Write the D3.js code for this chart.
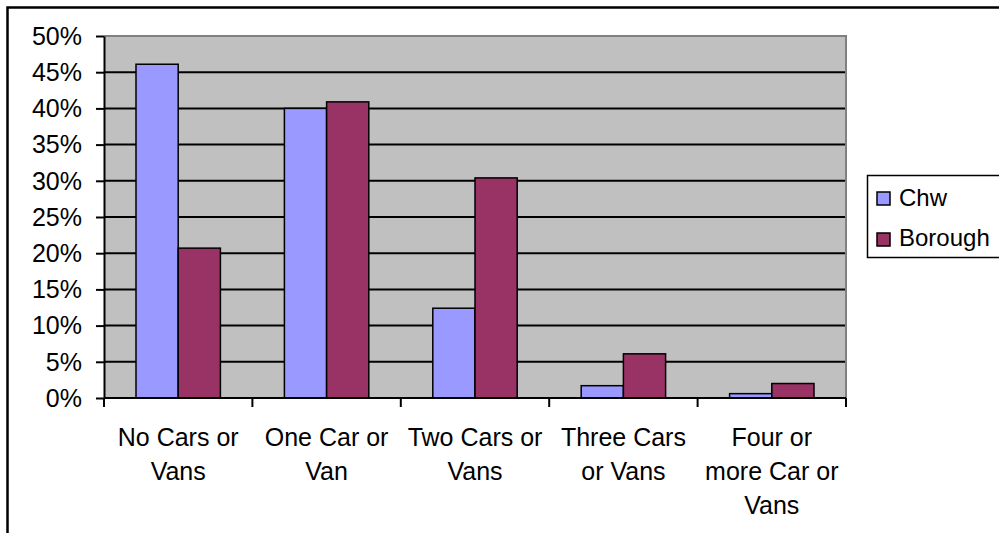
<!DOCTYPE html>
<html><head><meta charset="utf-8">
<script src="https://cdn.jsdelivr.net/npm/d3@7"></script>
<style>body{margin:0;background:#fff}svg{display:block}text{font-family:"Liberation Sans",Arial,sans-serif;fill:#000}</style>
</head><body>
<script>
const categories = [["No Cars or","Vans"],["One Car or","Van"],["Two Cars or","Vans"],["Three Cars","or Vans"],["Four or","more Car or","Vans"]];
const seriesNames = ["Chw","Borough"];
const chwValues = [0.461, 0.400, 0.124, 0.017, 0.006];
const boroughValues = [0.207, 0.409, 0.304, 0.061, 0.020];
const yTicks = [0,0.05,0.1,0.15,0.2,0.25,0.3,0.35,0.4,0.45,0.5];
const colors = ["#9999FF","#993366"];

const W=999,H=533;
const svg=d3.select("body").append("svg").attr("width",W).attr("height",H);
// outer frame
svg.append("rect").attr("x",7.5).attr("y",7.5).attr("width",W+20).attr("height",H+20)
  .attr("fill","#fff").attr("stroke","#000").attr("stroke-width",2.5);

const L=104,R=846,T=36,B=398;
const x=d3.scaleBand().domain(d3.range(categories.length)).range([L,R]).paddingInner(0).paddingOuter(0);
const y=d3.scaleLinear().domain([0,0.5]).range([B,T]);
const inner=d3.scaleBand().domain(seriesNames).range([32, x.bandwidth()-32]);

svg.append("rect").attr("x",L).attr("y",T).attr("width",R-L).attr("height",B-T).attr("fill","#C0C0C0");
// gridlines
svg.append("g").selectAll("line").data(yTicks.slice(1)).join("line")
  .attr("x1",L).attr("x2",R).attr("y1",d=>y(d)).attr("y2",d=>y(d)).attr("stroke","#000").attr("stroke-width",2);
// plot border top/right gray
svg.append("path").attr("d",`M${L},${T}H${R}V${B}`).attr("fill","none").attr("stroke","#808080").attr("stroke-width",2);

// bars
const data=[chwValues,boroughValues];
seriesNames.forEach((s,si)=>{
  svg.append("g").selectAll("rect").data(data[si]).join("rect")
    .attr("x",(d,i)=>x(i)+inner(s)).attr("width",inner.bandwidth())
    .attr("y",d=>y(d)).attr("height",d=>B-y(d))
    .attr("fill",colors[si]).attr("stroke","#000").attr("stroke-width",1.5);
});

// y axis
const yAxis=d3.axisLeft(y).tickValues(yTicks).tickFormat(d3.format(".0%")).tickSize(8).tickSizeOuter(0).tickPadding(14);
const ya=svg.append("g").attr("transform",`translate(${L},0)`).call(yAxis);
ya.select(".domain").attr("stroke","#000").attr("stroke-width",2);
ya.selectAll(".tick line").attr("stroke","#000").attr("stroke-width",2);
ya.selectAll(".tick text").attr("font-size",25).attr("dy","0.33em").style("font-family","Liberation Sans, Arial, sans-serif");

// x axis baseline and ticks
svg.append("line").attr("x1",L).attr("x2",R).attr("y1",B).attr("y2",B).attr("stroke","#000").attr("stroke-width",2);
svg.append("g").selectAll("line").data(d3.range(categories.length+1)).join("line")
  .attr("x1",i=>L+i*x.bandwidth()).attr("x2",i=>L+i*x.bandwidth()).attr("y1",B).attr("y2",B+9)
  .attr("stroke","#000").attr("stroke-width",2);
// category labels
const cl=svg.append("g").selectAll("text").data(categories).join("text")
  .attr("text-anchor","middle").attr("font-size",25)
  .attr("transform",(d,i)=>`translate(${x(i)+x.bandwidth()/2},${446})`);
cl.selectAll("tspan").data(d=>d).join("tspan").attr("x",0).attr("dy",(d,j)=>j===0?0:33.8).text(d=>d);

// legend
const lg=svg.append("g");
lg.append("rect").attr("x",867.5).attr("y",175.5).attr("width",160).attr("height",82)
  .attr("fill","#fff").attr("stroke","#000").attr("stroke-width",1.5);
seriesNames.forEach((s,i)=>{
  lg.append("rect").attr("x",877).attr("y",192+i*41).attr("width",13).attr("height",13)
    .attr("fill",colors[i]).attr("stroke","#000").attr("stroke-width",1.5);
  lg.append("text").attr("x",899).attr("y",206+i*40).attr("font-size",24).text(s);
});
</script>
</body></html>
